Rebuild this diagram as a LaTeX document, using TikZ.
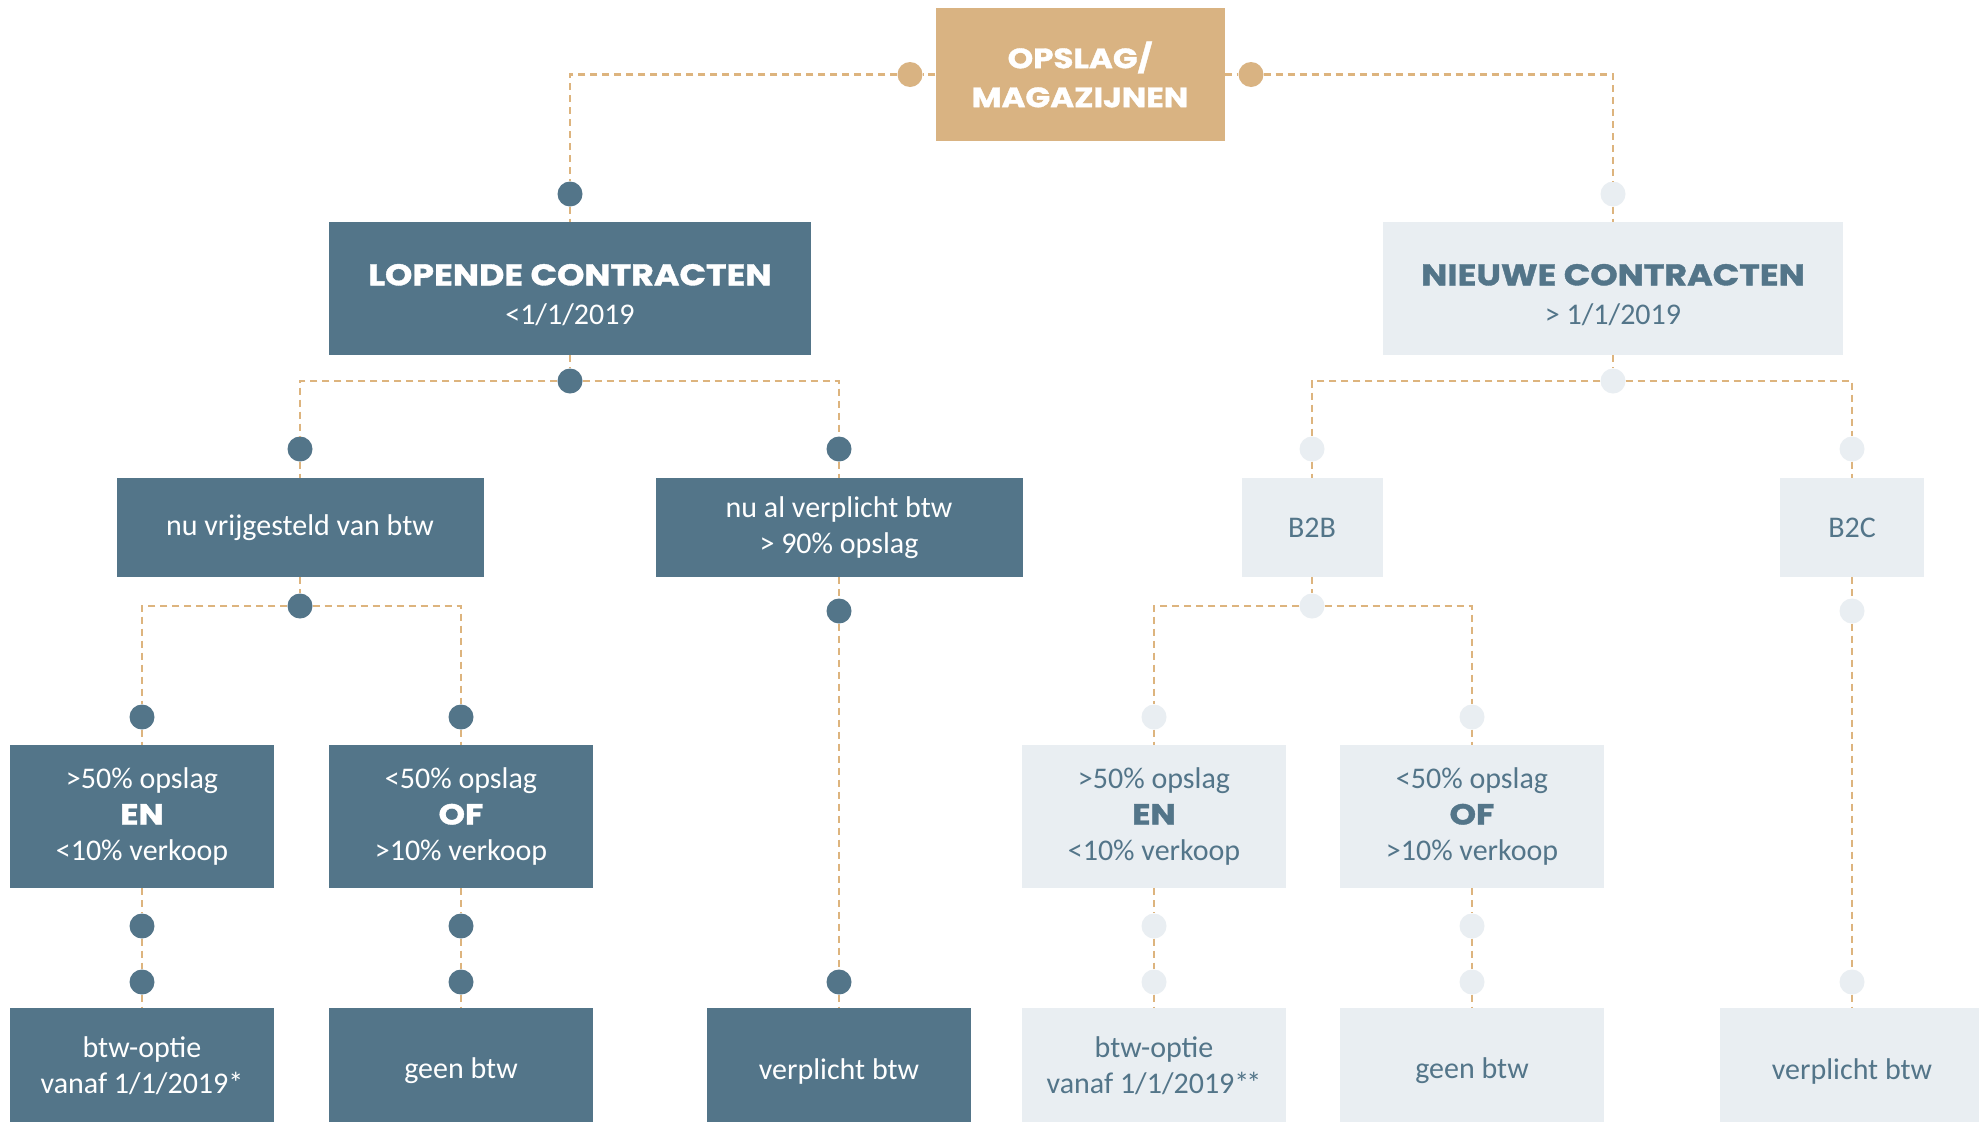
\documentclass[tikz,border=0pt]{standalone}
\usepackage{fontspec}
\usepackage{graphicx}
\setmainfont{Carlito}
\newfontfamily\headfont{Poppins}[BoldFeatures={FakeBold=1.2}]
\definecolor{dblue}{HTML}{537589}
\definecolor{lblue}{HTML}{E9EEF2}
\definecolor{goldbox}{HTML}{D9B382}
\definecolor{golddash}{HTML}{DDB47E}
\tikzset{
  box/.style={rectangle, inner sep=0pt, align=center, font=\fontsize{30}{36}\selectfont},
  dbox/.style={box, fill=dblue, text=white},
  lbox/.style={box, fill=lblue, text=dblue},
  gbox/.style={box, fill=goldbox, text=white, font=\headfont\bfseries\fontsize{28}{39}\selectfont},
  dotbase/.style={circle, minimum size=25pt, inner sep=0pt},
  ddot/.style={dotbase, fill=dblue},
  ldot/.style={dotbase, fill=lblue},
  gdot/.style={dotbase, fill=goldbox},
  conn/.style={draw=golddash, line width=2.6pt, dash pattern=on 7pt off 5pt},
}
\newcommand{\wide}[1]{\scalebox{1.16}[1]{#1}}
\newcommand{\hdtxt}[1]{{\headfont\bfseries\fontsize{30}{37}\selectfont\wide{#1}}}
\newcommand{\smhd}[1]{{\headfont\bfseries\fontsize{29}{36}\selectfont\wide{#1}}}
\begin{document}
\begin{tikzpicture}[x=1pt, y=-1pt]
\useasboundingbox (0,0) rectangle (1979,1122);
\fill[white] (0,0) rectangle (1979,1122);
% top
\node[gbox, minimum width=289pt, minimum height=133pt] (top) at (1080,74.5) {\wide{OPSLAG/}\\\wide{MAGAZIJNEN}};
\node[gdot] (tdl) at (910,74.5) {};
\node[gdot] (tdr) at (1251,74.5) {};
% level 1
\node[ddot] (lopT) at (570,194) {};
\node[dbox, minimum width=482pt, minimum height=133pt] (lop) at (570,288.5) {\rule{0pt}{34pt}\hdtxt{LOPENDE CONTRACTEN}\\[3pt]<1/1/2019};
\node[ddot] (lopB) at (570,381) {};
\node[ldot] (nieT) at (1613,194) {};
\node[lbox, minimum width=460pt, minimum height=133pt] (nie) at (1613,288.5) {\rule{0pt}{34pt}\hdtxt{NIEUWE CONTRACTEN}\\[3pt]> 1/1/2019};
\node[ldot] (nieB) at (1613,381) {};
% level 2
\node[ddot] (vT) at (300,449) {};
\node[dbox, minimum width=367pt, minimum height=99pt] (vrij) at (300,527.5) {nu vrijgesteld van btw};
\node[ddot] (vB) at (300,606) {};
\node[ddot] (aT) at (839,449) {};
\node[dbox, minimum width=367pt, minimum height=99pt] (alv) at (839,527.5) {nu al verplicht btw\\> 90\% opslag};
\node[ddot] (aB) at (839,611) {};
\node[ldot] (bbT) at (1312,449) {};
\node[lbox, minimum width=141pt, minimum height=99pt] (bb) at (1312,527.5) {B2B};
\node[ldot] (bbB) at (1312,606) {};
\node[ldot] (bcT) at (1852,449) {};
\node[lbox, minimum width=144pt, minimum height=99pt] (bc) at (1852,527.5) {B2C};
\node[ldot] (bcB) at (1852,611) {};
% level 3
\node[ddot] (l1T) at (142,717) {};
\node[dbox, minimum width=264pt, minimum height=143pt] (l1) at (142,816.5) {>50\% opslag\\\smhd{EN}\\<10\% verkoop};
\node[ddot] (l1B) at (142,926) {};
\node[ddot] (l1C) at (142,982) {};
\node[dbox, minimum width=264pt, minimum height=116pt] (l1E) at (142,1066) {btw-optie\\vanaf 1/1/2019*};
\node[ddot] (l2T) at (461,717) {};
\node[dbox, minimum width=264pt, minimum height=143pt] (l2) at (461,816.5) {<50\% opslag\\\smhd{OF}\\>10\% verkoop};
\node[ddot] (l2B) at (461,926) {};
\node[ddot] (l2C) at (461,982) {};
\node[dbox, minimum width=264pt, minimum height=126pt] (l2E) at (461,1071) {geen btw};
\node[ddot] (aC) at (839,982) {};
\node[dbox, minimum width=264pt, minimum height=126pt] (aE) at (839,1071) {verplicht btw};
\node[ldot] (r1T) at (1154,717) {};
\node[lbox, minimum width=264pt, minimum height=143pt] (r1) at (1154,816.5) {>50\% opslag\\\smhd{EN}\\<10\% verkoop};
\node[ldot] (r1B) at (1154,926) {};
\node[ldot] (r1C) at (1154,982) {};
\node[lbox, minimum width=264pt, minimum height=116pt] (r1E) at (1154,1066) {btw-optie\\vanaf 1/1/2019*\kern-3pt*};
\node[ldot] (r2T) at (1472,717) {};
\node[lbox, minimum width=264pt, minimum height=143pt] (r2) at (1472,816.5) {<50\% opslag\\\smhd{OF}\\>10\% verkoop};
\node[ldot] (r2B) at (1472,926) {};
\node[ldot] (r2C) at (1472,982) {};
\node[lbox, minimum width=264pt, minimum height=126pt] (r2E) at (1472,1071) {geen btw};
\node[ldot] (bcC) at (1852,982) {};
\node[lbox, minimum width=264pt, minimum height=126pt] (bcE) at (1852,1071) {verplicht btw};
% connectors
\draw[conn] (top) -- (tdl);
\draw[conn] (tdl) -| (lopT);
\draw[conn] (top) -- (tdr);
\draw[conn] (tdr) -| (nieT);
\draw[conn] (lopT) -- (lop);
\draw[conn] (lop) -- (lopB);
\draw[conn] (nieT) -- (nie);
\draw[conn] (nie) -- (nieB);
\draw[conn] (lopB) -| (vT);
\draw[conn] (lopB) -| (aT);
\draw[conn] (nieB) -| (bbT);
\draw[conn] (nieB) -| (bcT);
\draw[conn] (vT) -- (vrij);
\draw[conn] (vrij) -- (vB);
\draw[conn] (aT) -- (alv);
\draw[conn] (alv) -- (aB);
\draw[conn] (bbT) -- (bb);
\draw[conn] (bb) -- (bbB);
\draw[conn] (bcT) -- (bc);
\draw[conn] (bc) -- (bcB);
\draw[conn] (vB) -| (l1T);
\draw[conn] (vB) -| (l2T);
\draw[conn] (bbB) -| (r1T);
\draw[conn] (bbB) -| (r2T);
\draw[conn] (aB) -- (aC);
\draw[conn] (aC) -- (aE);
\draw[conn] (bcB) -- (bcC);
\draw[conn] (bcC) -- (bcE);
\foreach \n in {l1,l2,r1,r2} {
  \draw[conn] (\n T) -- (\n);
  \draw[conn] (\n) -- (\n B);
  \draw[conn] (\n B) -- (\n C);
  \draw[conn] (\n C) -- (\n E);
}
\end{tikzpicture}
\end{document}
